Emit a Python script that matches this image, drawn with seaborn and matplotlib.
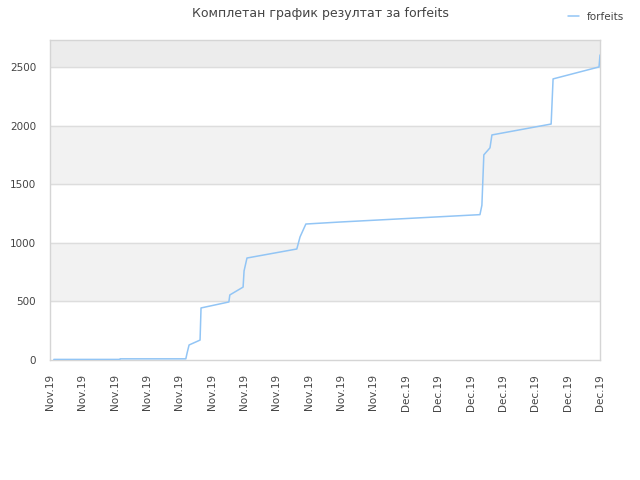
import matplotlib
matplotlib.use("Agg")
import matplotlib.pyplot as plt
import seaborn as sns
import pandas as pd

# x in tick units (0 = first tick, 17 = last tick), y = cumulative forfeits
pos = [0.12, 2.16, 2.17, 4.20, 4.24, 4.30, 4.64, 4.67, 5.53, 5.56, 5.97, 6.00, 6.09,
       7.63, 7.73, 7.91, 8.96, 13.29, 13.35, 13.41, 13.60, 13.66, 15.49, 15.55, 16.97, 17.0]
forfeits = [5, 5, 10, 10, 60, 128, 170, 444, 495, 555, 622, 760, 870,
            947, 1050, 1160, 1177, 1240, 1320, 1750, 1810, 1920, 2013, 2398, 2500, 2602]
tick_labels = ["Nov.19"] * 11 + ["Dec.19"] * 7

df = pd.DataFrame({"pos": pos, "forfeits": forfeits})

sns.set_style("white")
plt.rcParams['font.family'] = ['DejaVu Sans']
txt = "#444444"

fig = plt.figure(figsize=(6.4, 4.8), dpi=100)
ax = fig.add_axes([0.078, 0.25, 0.8595, 0.6667])

ymax = 2730
# alternating bands
ax.axhspan(500, 1000, color="#f2f2f2", zorder=0)
ax.axhspan(1500, 2000, color="#f2f2f2", zorder=0)
ax.axhspan(2500, ymax, color="#ececec", zorder=0)
for y in [500, 1000, 1500, 2000, 2500]:
    ax.axhline(y, color="#dddddd", lw=1, zorder=1)

sns.lineplot(data=df, x="pos", y="forfeits", estimator=None, sort=False,
             color="#92c5f5", lw=1.1, ax=ax, label="forfeits", legend=False, zorder=3)

ax.set_xlim(0, 17)
ax.set_ylim(0, ymax)
ax.set_xticks(range(len(tick_labels)))
ax.set_xticklabels(tick_labels, rotation=90, fontsize=7.5, color=txt)
ax.set_yticks([0, 500, 1000, 1500, 2000, 2500])
ax.tick_params(axis="y", labelsize=7.5, labelcolor=txt, length=0, pad=10)
ax.tick_params(axis="x", length=0, pad=10)
ax.set_xlabel("")
ax.set_ylabel("")
for s in ax.spines.values():
    s.set_color("#d5d5d5")
    s.set_linewidth(1)

fig.suptitle("Комплетан график резултат за forfeits", fontsize=9, color=txt, y=0.985)
h, l = ax.get_legend_handles_labels()
fig.legend(h, l, loc="upper right", bbox_to_anchor=(0.99, 0.995), frameon=False,
           fontsize=7.5, labelcolor=txt, handlelength=1.0, handletextpad=0.8)

fig.savefig("out.png", dpi=100)
